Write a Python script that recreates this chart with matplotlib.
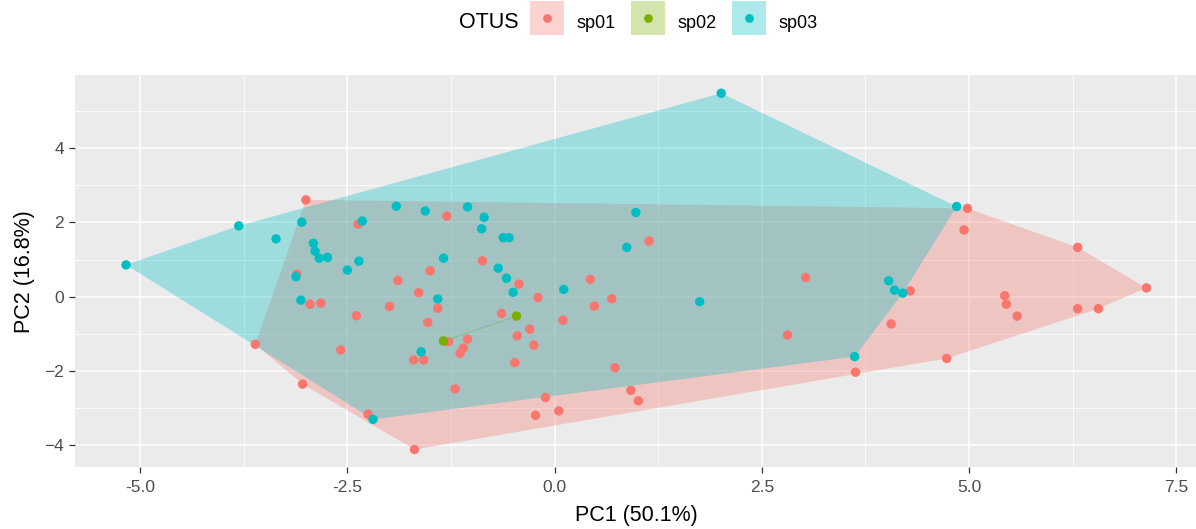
import numpy as np
import matplotlib
matplotlib.use("Agg")
import matplotlib.pyplot as plt
from matplotlib.patches import Polygon
from matplotlib.lines import Line2D
from matplotlib.legend_handler import HandlerTuple

plt.rcParams['font.family'] = ['Liberation Sans', 'DejaVu Sans']

# PCA scores
sp01_x = [-3.00, -2.37, -1.30, -3.11, -1.89, -1.50, -2.95, -2.82, -1.99, -1.64,
          -1.41, -2.39, -1.53, -3.61, -2.58, -1.28, -1.70, -1.58, -1.14, -1.10,
          -3.04, -1.20, -2.25, -1.69, -0.87, -0.43, 1.14, 0.43, -0.20, 0.48,
          0.69, -0.64, -0.30, -0.45, 0.10, -1.05, -0.25, 2.81, -0.48, 0.73,
          -0.11, 0.92, 1.01, 0.05, -0.23, 4.98, 4.94, 6.31, 7.14, 3.03,
          4.29, 5.43, 5.45, 6.31, 6.56, 5.58, 4.06, 3.63, 4.73]
sp01_y = [2.61, 1.96, 2.17, 0.61, 0.44, 0.70, -0.20, -0.17, -0.26, 0.11,
          -0.31, -0.51, -0.69, -1.28, -1.43, -1.21, -1.70, -1.70, -1.52, -1.38,
          -2.35, -2.48, -3.16, -4.11, 0.97, 0.34, 1.50, 0.47, -0.02, -0.25,
          -0.05, -0.45, -0.87, -1.05, -0.63, -1.14, -1.30, -1.03, -1.77, -1.91,
          -2.71, -2.52, -2.80, -3.07, -3.19, 2.38, 1.80, 1.33, 0.24, 0.52,
          0.16, 0.03, -0.20, -0.32, -0.32, -0.52, -0.73, -2.03, -1.66]

sp02_x = [-1.34, -0.46]
sp02_y = [-1.19, -0.52]

sp03_x = [-5.17, -3.81, -3.36, -3.05, -2.91, -2.89, -2.84, -2.74, -2.36, -2.32,
          -1.91, -1.56, -1.34, -2.50, -3.12, -3.06, -1.41, -1.61, -2.19, -1.05,
          -0.85, -0.88, -0.62, -0.55, 0.98, 0.87, -0.68, -0.58, -0.50, 0.11,
          1.75, 2.01, 4.85, 4.03, 4.10, 4.20, 3.62]
sp03_y = [0.86, 1.91, 1.56, 2.01, 1.44, 1.23, 1.04, 1.06, 0.96, 2.04,
          2.44, 2.31, 1.04, 0.72, 0.54, -0.09, -0.06, -1.48, -3.30, 2.42,
          2.14, 1.83, 1.59, 1.59, 2.27, 1.33, 0.77, 0.50, 0.12, 0.20,
          -0.13, 5.48, 2.43, 0.43, 0.18, 0.10, -1.61]

groups = ['sp01', 'sp02', 'sp03']
colors = ['#F8766D', '#7CAE00', '#00BFC4']
xs = [sp01_x, sp02_x, sp03_x]
ys = [sp01_y, sp02_y, sp03_y]


def hull(px, py):
    # monotone chain convex hull
    pts = sorted(set(zip(px, py)))
    if len(pts) < 3:
        return pts

    def cross(o, a, b):
        return (a[0] - o[0]) * (b[1] - o[1]) - (a[1] - o[1]) * (b[0] - o[0])

    lower, upper = [], []
    for p in pts:
        while len(lower) >= 2 and cross(lower[-2], lower[-1], p) <= 0:
            lower.pop()
        lower.append(p)
    for p in reversed(pts):
        while len(upper) >= 2 and cross(upper[-2], upper[-1], p) <= 0:
            upper.pop()
        upper.append(p)
    return lower[:-1] + upper[:-1]


W, H = 1196, 529
fig = plt.figure(figsize=(W / 100, H / 100), dpi=100)
ax = fig.add_axes([75 / W, 1 - 467.3 / H, 1122.5 / W, 391.9 / H])
ax.set_facecolor('#EBEBEB')

# hulls
for gx, gy, c in zip(xs, ys, colors):
    verts = hull(gx, gy)
    if len(verts) >= 3:
        ax.add_patch(Polygon(verts, closed=True, facecolor=c, alpha=0.32,
                             edgecolor='none', zorder=1))
    else:
        ax.plot([v[0] for v in verts], [v[1] for v in verts], color=c,
                alpha=0.35, lw=0.8, zorder=1)

# points: red, teal, green
for i in [0, 2, 1]:
    ax.scatter(xs[i], ys[i], s=46, color=colors[i], edgecolors='none', zorder=3)

ax.margins(0.05)
ax.set_xticks([-5.0, -2.5, 0.0, 2.5, 5.0, 7.5])
ax.set_xticks([-3.75, -1.25, 1.25, 3.75, 6.25], minor=True)
ax.set_yticks([-4, -2, 0, 2, 4])
ax.set_yticks([-3, -1, 1, 3, 5], minor=True)
ax.xaxis.set_major_formatter(matplotlib.ticker.FormatStrFormatter('%.1f'))
ax.grid(which='major', color='white', lw=1.1, zorder=0)
ax.grid(which='minor', color='white', lw=0.55, zorder=0)
ax.set_axisbelow(True)
for s in ax.spines.values():
    s.set_visible(False)
ax.tick_params(which='major', length=4, width=0.9, color='#333333',
               labelsize=12.5, labelcolor='#4D4D4D', pad=4)
ax.tick_params(axis='x', which='major', pad=5.5)
ax.tick_params(which='minor', length=0)

ax.set_xlabel('PC1 (50.1%)', fontsize=15.5)
ax.set_ylabel('PC2 (16.8%)', fontsize=15.5)
ax.xaxis.set_label_coords(0.5, -0.095)
ax.yaxis.set_label_coords(-0.036, 0.5)

# legend on top: shaded square key with a dot in the middle
handles = [(Line2D([], [], marker='s', markersize=24, color=c, alpha=0.32,
                   markeredgewidth=0, linestyle=''),
            Line2D([], [], marker='o', markersize=6.3, color=c,
                   markeredgewidth=0, linestyle=''))
           for c in colors]
fig.text(519 / W, 1 - 22 / H, 'OTUS', ha='right', va='center', fontsize=15.5)
fig.legend(handles, groups,
           handler_map={tuple: HandlerTuple(ndivide=1, pad=0)},
           loc='center left', bbox_to_anchor=(530 / W, 1 - 22 / H), ncol=3,
           frameon=False, fontsize=13, handlelength=1.83, handleheight=1.9,
           handletextpad=0.72, columnspacing=0.9, borderpad=0, borderaxespad=0)

fig.savefig('out.png', dpi=100)
